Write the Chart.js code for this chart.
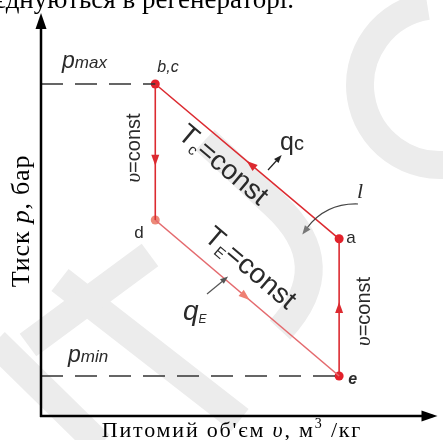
<!DOCTYPE html>
<html>
<head>
<meta charset="utf-8">
<script src="https://cdn.jsdelivr.net/npm/chart.js@4"></script>
<style>
  html, body { margin: 0; padding: 0; background: #fff; }
  #c { display: block; }
</style>
</head>
<body>
<canvas id="c" width="443" height="440"></canvas>
<script>
// cycle vertices: b,c -> d -> e -> a -> b
const pointNames = ['b,c', 'd', 'e', 'a'];
const volume = [2.875, 2.875, 7.5, 7.5];
const pressure = [8.3, 4.9, 1.0, 4.43];
const pointColors = ['#e3202a', '#ec8a78', '#e3202a', '#e3202a'];

const levelNames = ['max', 'min'];
const levelPressure = [8.3, 1.0];
const levelVolume = [2.875, 7.5];

const topText = 'з\'єднуються в регенераторі.';

const RED = '#dc2a30';
const PINK = '#e46a6e';
const INK = '#2a2a2a';

function pt(i) { return { x: volume[i], y: pressure[i] }; }

function arrowHead(ctx, x, y, ang, len, w, color) {
  ctx.save();
  ctx.translate(x, y);
  ctx.rotate(ang);
  ctx.fillStyle = color;
  ctx.beginPath();
  ctx.moveTo(len / 2, 0);
  ctx.lineTo(-len / 2, -w / 2);
  ctx.lineTo(-len / 2, w / 2);
  ctx.closePath();
  ctx.fill();
  ctx.restore();
}

function rich(ctx, x, y, parts) {
  let cx = x;
  for (const p of parts) {
    ctx.font = p.font;
    ctx.fillText(p.t, cx, y + (p.dy || 0));
    cx += ctx.measureText(p.t).width + (p.gap || 0);
  }
  return cx - x;
}
function richWidth(ctx, parts) {
  let w = 0;
  for (const p of parts) { ctx.font = p.font; w += ctx.measureText(p.t).width + (p.gap || 0); }
  return w;
}

// faint logo watermark behind the diagram
const watermark = {
  id: 'watermark',
  beforeDatasetsDraw(chart) {
    const ctx = chart.ctx;
    ctx.save();
    ctx.strokeStyle = '#ececec';
    ctx.lineCap = 'butt';
    ctx.lineWidth = 28;
    ctx.beginPath();
    ctx.arc(440, 85, 80, Math.PI * 0.45, Math.PI * 1.45);
    ctx.stroke();
    ctx.beginPath();
    ctx.moveTo(205, 140);
    ctx.lineTo(275, 205);
    ctx.quadraticCurveTo(340, 265, 280, 330);
    ctx.stroke();
    ctx.beginPath();
    ctx.moveTo(-5, 342);
    ctx.lineTo(100, 445);
    ctx.stroke();
    ctx.beginPath();
    ctx.moveTo(60, 280);
    ctx.lineTo(240, 420);
    ctx.stroke();
    ctx.beginPath();
    ctx.moveTo(28, 345);
    ctx.lineTo(150, 255);
    ctx.stroke();
    ctx.restore();
  }
};

const decor = {
  id: 'decor',
  afterDatasetsDraw(chart) {
    const ctx = chart.ctx;
    const xs = chart.scales.x, ys = chart.scales.y;
    const P = i => ({ x: xs.getPixelForValue(volume[i]), y: ys.getPixelForValue(pressure[i]) });
    const b = P(0), d = P(1), e = P(2), a = P(3);
    const ax = xs.getPixelForValue(0), ay = ys.getPixelForValue(0);
    const xEnd = xs.getPixelForValue(10), yEnd = ys.getPixelForValue(10);

    ctx.save();
    // axes with arrows
    ctx.strokeStyle = '#000';
    ctx.lineWidth = 2.5;
    ctx.beginPath();
    ctx.moveTo(ax, ay + 1);
    ctx.lineTo(ax, yEnd + 8);
    ctx.moveTo(ax - 1, ay);
    ctx.lineTo(xEnd - 6, ay);
    ctx.stroke();
    arrowHead(ctx, ax, yEnd + 5, -Math.PI / 2, 16, 11, '#000');
    arrowHead(ctx, xEnd - 9, ay, 0, 16, 11, '#000');

    // direction arrows on the cycle
    const segs = [[b, d, 0.56, RED], [d, e, 0.49, '#ef7f72'], [e, a, 0.5, RED], [a, b, 0.48, RED]];
    for (const [p0, p1, f, col] of segs) {
      const ang = Math.atan2(p1.y - p0.y, p1.x - p0.x);
      arrowHead(ctx, p0.x + f * (p1.x - p0.x), p0.y + f * (p1.y - p0.y), ang, 11, 8, col);
    }

    ctx.fillStyle = INK;
    ctx.textBaseline = 'alphabetic';
    ctx.textAlign = 'left';

    // p levels
    rich(ctx, ax + 21, b.y - 16, [
      { t: 'p', font: 'italic 23px "Liberation Sans"' },
      { t: levelNames[0], font: 'italic 17px "Liberation Sans"' }
    ]);
    rich(ctx, ax + 27, e.y - 14, [
      { t: 'p', font: 'italic 23px "Liberation Sans"' },
      { t: levelNames[1], font: 'italic 17px "Liberation Sans"' }
    ]);

    // vertex names
    ctx.font = 'italic 16px "Liberation Sans"';
    ctx.fillText(pointNames[0], b.x + 2, b.y - 12);
    ctx.font = '17px "Liberation Sans"';
    ctx.fillText(pointNames[1], d.x - 21, d.y + 18);
    ctx.fillText(pointNames[3], a.x + 7, a.y + 4);
    ctx.font = 'italic bold 16px "Liberation Sans"';
    ctx.fillText(pointNames[2], e.x + 9, e.y + 8);

    // v=const labels (vertical)
    function vtext(x, y) {
      ctx.save();
      ctx.translate(x, y);
      ctx.rotate(-Math.PI / 2);
      ctx.textBaseline = 'middle';
      const parts = [{ t: 'υ', font: 'italic 21px "Liberation Serif"' }, { t: '=const', font: '20px "Liberation Sans"' }];
      const w = richWidth(ctx, parts);
      rich(ctx, -w / 2, 0, parts);
      ctx.restore();
    }
    vtext(b.x - 21, (b.y + d.y) / 2 - 4);
    vtext(e.x + 25, (e.y + a.y) / 2 + 4);

    // isotherm labels
    function slanted(p0, p1, along, off, sub) {
      const dx = p1.x - p0.x, dy = p1.y - p0.y, L = Math.hypot(dx, dy);
      const ux = dx / L, uy = dy / L, nx = -uy, ny = ux;
      const mx = (p0.x + p1.x) / 2 + along * ux + off * nx;
      const my = (p0.y + p1.y) / 2 + along * uy + off * ny;
      const parts = [
        { t: 'T', font: '28px "Liberation Sans"' },
        { t: sub, font: '15px "Liberation Sans"', dy: 8 },
        { t: '=const', font: '28px "Liberation Sans"' }
      ];
      ctx.save();
      ctx.translate(mx, my);
      ctx.rotate(Math.atan2(dy, dx));
      ctx.textBaseline = 'middle';
      const w = richWidth(ctx, parts);
      rich(ctx, -w / 2, 0, parts);
      ctx.restore();
    }
    slanted(b, a, -16, 19, 'c');
    slanted(d, e, -17, -24, 'E');

    // heat labels
    rich(ctx, 280, 150, [
      { t: 'q', font: '25px "Liberation Sans"' },
      { t: 'c', font: '20px "Liberation Sans"' }
    ]);
    rich(ctx, 183, 320, [
      { t: 'q', font: 'italic 28px "Liberation Sans"' },
      { t: 'E', font: 'italic 12px "Liberation Sans"', dy: 3 }
    ]);

    // small pointer arrows
    ctx.strokeStyle = '#222';
    ctx.lineWidth = 1.2;
    ctx.beginPath();
    ctx.moveTo(268, 170);
    ctx.lineTo(278, 159);
    ctx.stroke();
    arrowHead(ctx, 279, 158, Math.atan2(-11, 10), 8, 6, '#222');

    ctx.strokeStyle = '#555';
    ctx.beginPath();
    ctx.moveTo(207, 294);
    ctx.lineTo(224, 280);
    ctx.stroke();
    arrowHead(ctx, 225, 279, Math.atan2(-14, 17), 8, 6, '#555');

    // cycle work label l
    ctx.fillStyle = INK;
    ctx.font = 'italic 22px "Liberation Serif"';
    ctx.fillText('l', 357, 198);
    ctx.strokeStyle = '#444';
    ctx.beginPath();
    ctx.moveTo(358, 204);
    ctx.quadraticCurveTo(326, 203, 307, 228);
    ctx.stroke();
    arrowHead(ctx, 305, 231, Math.atan2(25, -19), 9, 7, '#777');

    // axis titles
    ctx.fillStyle = '#000';
    ctx.letterSpacing = '1.8px';
    const xt = [
      { t: 'Питомий об\'єм ', font: '22px "Liberation Serif"' },
      { t: 'υ', font: 'italic 22px "Liberation Serif"' },
      { t: ', м', font: '22px "Liberation Serif"' },
      { t: '3', font: '14px "Liberation Serif"', dy: -9 },
      { t: ' /кг', font: '22px "Liberation Serif"' }
    ];
    rich(ctx, 232 - richWidth(ctx, xt) / 2, 437, xt);

    ctx.letterSpacing = '0.8px';
    const yt = [
      { t: 'Тиск ', font: '26px "Liberation Serif"' },
      { t: 'p', font: 'italic 26px "Liberation Serif"' },
      { t: ', бар', font: '26px "Liberation Serif"' }
    ];
    ctx.save();
    ctx.translate(29, 221);
    ctx.rotate(-Math.PI / 2);
    rich(ctx, -richWidth(ctx, yt) / 2, 0, yt);
    ctx.restore();
    ctx.letterSpacing = '0px';

    // cut-off text line from the page above
    ctx.font = '27px "Liberation Serif"';
    ctx.textAlign = 'right';
    ctx.fillText(topText, 294, 8);
    ctx.restore();
  }
};

new Chart(document.getElementById('c'), {
  type: 'scatter',
  data: {
    datasets: [
      { data: [{ x: 0, y: levelPressure[0] }, { x: levelVolume[0], y: levelPressure[0] }],
        showLine: true, borderColor: '#333', borderWidth: 1.3, borderDash: [22, 12], pointRadius: 0 },
      { data: [{ x: 0, y: levelPressure[1] }, { x: levelVolume[1], y: levelPressure[1] }],
        showLine: true, borderColor: '#333', borderWidth: 1.3, borderDash: [22, 12], pointRadius: 0 },
      { data: [pt(0), pt(1)], showLine: true, borderColor: RED, borderWidth: 1.6, pointRadius: 0 },
      { data: [pt(1), pt(2)], showLine: true, borderColor: PINK, borderWidth: 1.6, pointRadius: 0 },
      { data: [pt(2), pt(3)], showLine: true, borderColor: RED, borderWidth: 1.6, pointRadius: 0 },
      { data: [pt(3), pt(0)], showLine: true, borderColor: RED, borderWidth: 1.6, pointRadius: 0 },
      { data: volume.map((v, i) => ({ x: v, y: pressure[i] })), showLine: false,
        pointRadius: 4.5, pointBackgroundColor: pointColors, pointBorderWidth: 0 }
    ]
  },
  options: {
    responsive: false,
    animation: false,
    devicePixelRatio: 1,
    layout: { padding: { left: 41, right: 2, top: 16, bottom: 24 } },
    scales: {
      x: { type: 'linear', min: 0, max: 10, display: false },
      y: { type: 'linear', min: 0, max: 10, display: false }
    },
    plugins: { legend: { display: false }, tooltip: { enabled: false } }
  },
  plugins: [watermark, decor]
});
</script>
</body>
</html>
